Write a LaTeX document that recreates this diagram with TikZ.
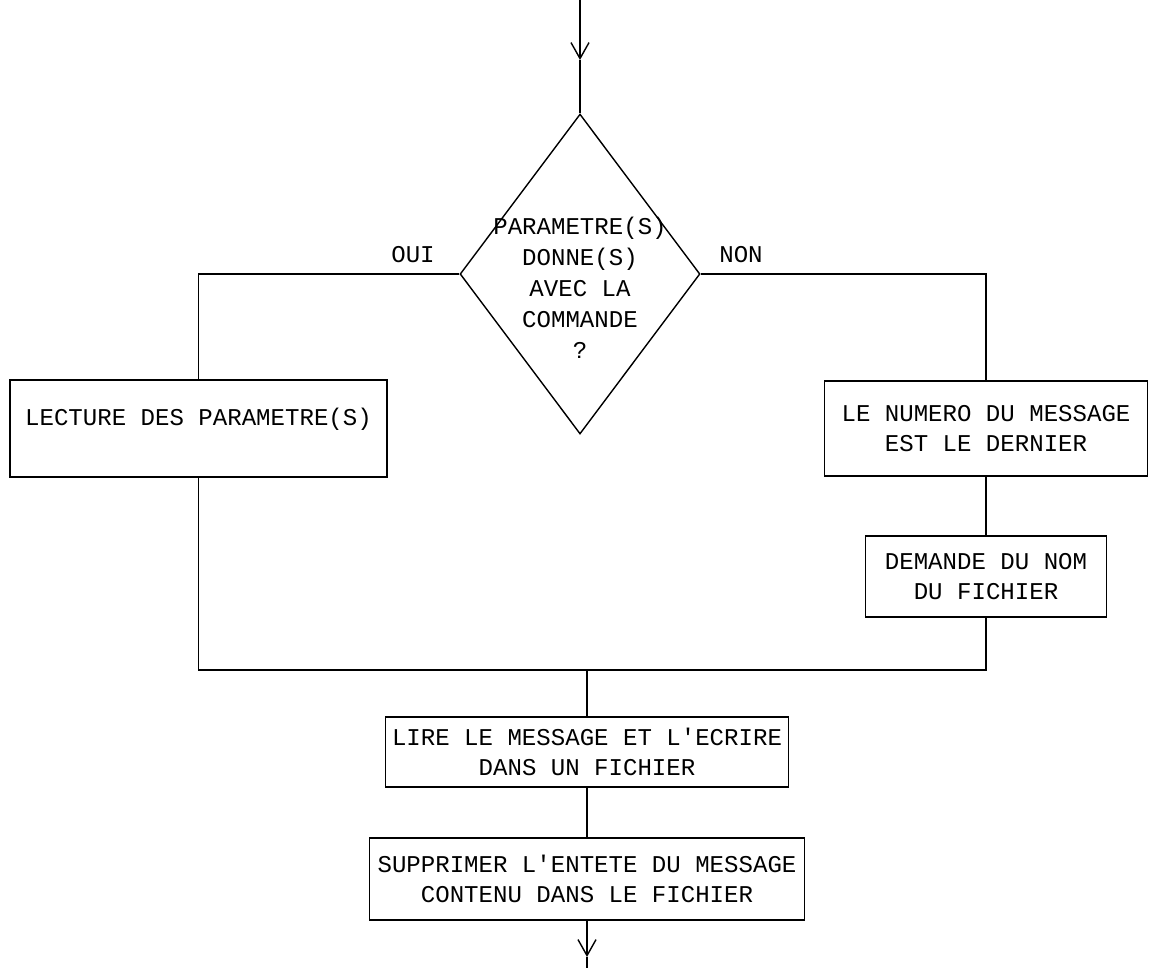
\documentclass[tikz,border=0pt]{standalone}
\usepackage{fontspec}
\newfontfamily\plotter{Liberation Mono}
\usetikzlibrary{arrows.meta,shapes.geometric}

\begin{document}
\begin{tikzpicture}[x=0.02cm,y=-0.02cm, font=\plotter\fontsize{13.7}{17.3}\selectfont,
  box/.style={draw,line width=0.8pt,align=center,inner sep=0pt},
  wire/.style={line width=0.8pt},
  arr/.style={wire,-{Straight Barb[length=0.32cm,width=0.36cm]}}]
  \useasboundingbox (0,0) rectangle (1155,968);
  % decision
  \node[box,diamond,minimum width=4.8cm,minimum height=6.4cm] (cond) at (580,274) {};
  \node[align=center,font=\plotter\fontsize{13.7}{17.6}\selectfont] (condtext) at (580,288)
    {PARAMETRE(S)\\DONNE(S)\\AVEC LA\\COMMANDE\\?};
  \node (oui) at (413,255) {OUI};
  \node (non) at (741,255) {NON};
  % branches
  \node[box,minimum width=7.54cm,minimum height=1.94cm,text height=0.28cm,text depth=0.42cm] (lecture) at (198.5,428.5) {LECTURE DES PARAMETRE(S)};
  \node[box,minimum width=6.46cm,minimum height=1.9cm] (numero) at (986,428.5) {LE NUMERO DU MESSAGE\\EST LE DERNIER};
  \node[box,minimum width=4.82cm,minimum height=1.62cm] (demande) at (986,576.5) {DEMANDE DU NOM\\DU FICHIER};
  % common part
  \node[box,minimum width=8.06cm,minimum height=1.4cm] (lire) at (587,752) {LIRE LE MESSAGE ET L'ECRIRE\\DANS UN FICHIER};
  \node[box,minimum width=8.7cm,minimum height=1.64cm] (supprimer) at (587,879) {SUPPRIMER L'ENTETE DU MESSAGE\\CONTENU DANS LE FICHIER};
  \coordinate (in) at (580,0);
  \coordinate (intip) at (580,60);
  \coordinate (join) at (587,670);
  \coordinate (outtip) at (587,957);
  \coordinate (out) at (587,968);
  % connectors
  \draw[arr] (in) -- (intip);
  \draw[wire] (intip) -- (cond.north);
  \draw[wire] (cond.west) -| (lecture.north);
  \draw[wire] (cond.east) -| (numero.north);
  \draw[wire] (numero) -- (demande);
  \draw[wire] (lecture.south) |- (join);
  \draw[wire] (demande.south) |- (join);
  \draw[wire] (join) -- (lire.north);
  \draw[wire] (lire) -- (supprimer);
  \draw[arr] (supprimer.south) -- (outtip);
  \draw[wire] (outtip) -- (out);
\end{tikzpicture}
\end{document}
